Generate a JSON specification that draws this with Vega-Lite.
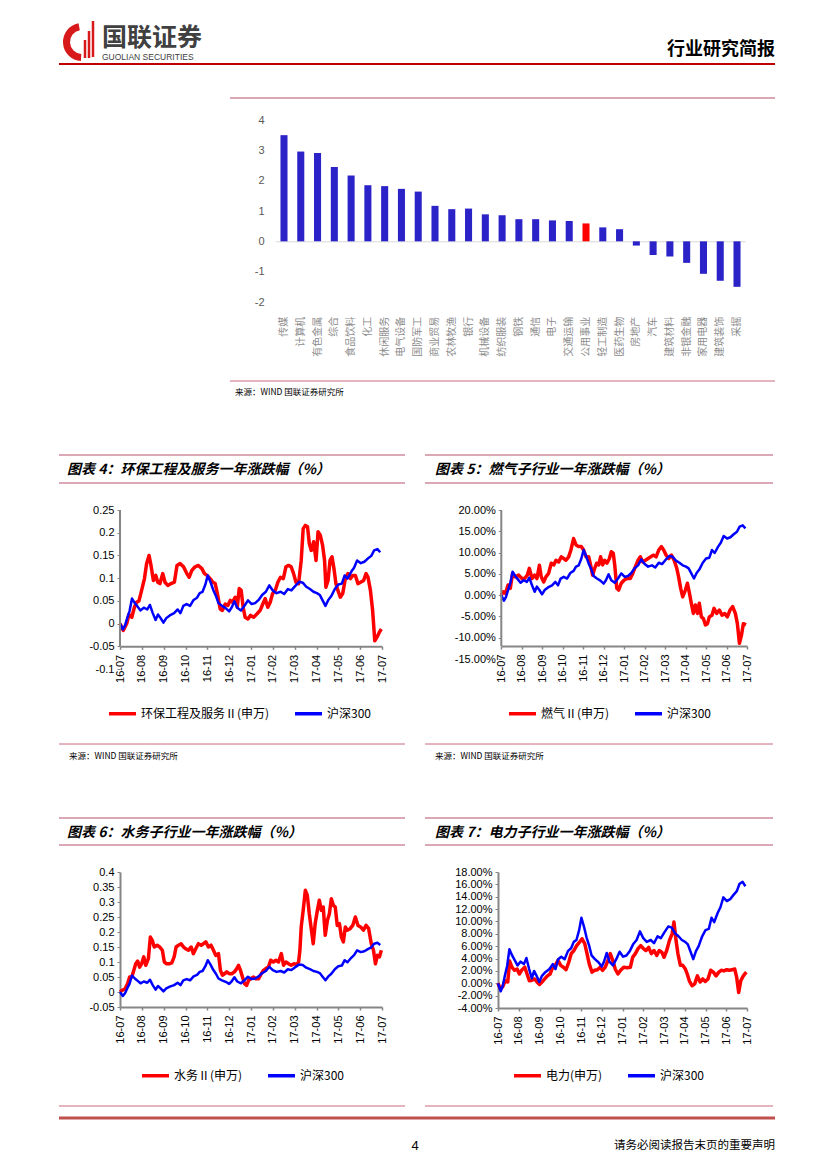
{
 "$schema": "https://vega.github.io/schema/vega-lite/v6.json",
 "background": "#ffffff",
 "padding": {"left": 57, "top": 0, "right": 0, "bottom": 0},
 "columns": 2,
 "bounds": "flush",
 "spacing": {"row": 0, "column": 20},
 "resolve": {"scale": {"color": "independent", "x": "independent", "y": "independent"}, "legend": {"color": "independent"}},
 "config": {"view": {"stroke": null}, "axis": {"grid": false}, "font": "Liberation Sans"},
 "datasets": {
  "industries": [
   {"name": "传媒", "value": 3.50}, {"name": "计算机", "value": 2.96}, {"name": "有色金属", "value": 2.91},
   {"name": "综合", "value": 2.45}, {"name": "食品饮料", "value": 2.17}, {"name": "化工", "value": 1.85},
   {"name": "休闲服务", "value": 1.82}, {"name": "电气设备", "value": 1.73}, {"name": "国防军工", "value": 1.64},
   {"name": "商业贸易", "value": 1.17}, {"name": "农林牧渔", "value": 1.06}, {"name": "银行", "value": 1.08},
   {"name": "机械设备", "value": 0.89}, {"name": "纺织服装", "value": 0.86}, {"name": "钢铁", "value": 0.73},
   {"name": "通信", "value": 0.73}, {"name": "电子", "value": 0.69}, {"name": "交通运输", "value": 0.67},
   {"name": "公用事业", "value": 0.59}, {"name": "轻工制造", "value": 0.46}, {"name": "医药生物", "value": 0.40},
   {"name": "房地产", "value": -0.14}, {"name": "汽车", "value": -0.45}, {"name": "建筑材料", "value": -0.50},
   {"name": "非银金融", "value": -0.71}, {"name": "家用电器", "value": -1.07}, {"name": "建筑装饰", "value": -1.30},
   {"name": "采掘", "value": -1.50}
  ],
  "hs300": [
   {"t":0,"v":0},{"t":0.13,"v":-0.013},{"t":0.23,"v":-0.004},{"t":0.33,"v":0.012},{"t":0.44,"v":0.028},{"t":0.55,"v":0.055},{"t":0.68,"v":0.045},{"t":0.81,"v":0.037},{"t":0.94,"v":0.029},{"t":1.09,"v":0.035},{"t":1.25,"v":0.031},{"t":1.37,"v":0.041},{"t":1.5,"v":0.023},{"t":1.63,"v":0.008},{"t":1.74,"v":0.02},{"t":1.86,"v":0.012},{"t":1.99,"v":0.002},{"t":2.12,"v":0.012},{"t":2.28,"v":0.018},{"t":2.48,"v":0.023},{"t":2.64,"v":0.031},{"t":2.77,"v":0.023},{"t":2.9,"v":0.039},{"t":3.05,"v":0.043},{"t":3.21,"v":0.039},{"t":3.37,"v":0.052},{"t":3.53,"v":0.057},{"t":3.65,"v":0.067},{"t":3.78,"v":0.07},{"t":3.91,"v":0.086},{"t":4.02,"v":0.106},{"t":4.14,"v":0.092},{"t":4.27,"v":0.074},{"t":4.4,"v":0.06},{"t":4.51,"v":0.045},{"t":4.67,"v":0.039},{"t":4.84,"v":0.034},{"t":5.0,"v":0.027},{"t":5.11,"v":0.035},{"t":5.24,"v":0.049},{"t":5.37,"v":0.035},{"t":5.54,"v":0.029},{"t":5.7,"v":0.039},{"t":5.86,"v":0.051},{"t":6.03,"v":0.043},{"t":6.19,"v":0.045},{"t":6.35,"v":0.052},{"t":6.51,"v":0.063},{"t":6.68,"v":0.07},{"t":6.84,"v":0.084},{"t":7.0,"v":0.073},{"t":7.17,"v":0.067},{"t":7.36,"v":0.07},{"t":7.52,"v":0.065},{"t":7.69,"v":0.076},{"t":7.85,"v":0.073},{"t":8.01,"v":0.082},{"t":8.21,"v":0.092},{"t":8.37,"v":0.09},{"t":8.53,"v":0.081},{"t":8.7,"v":0.076},{"t":8.86,"v":0.07},{"t":9.02,"v":0.067},{"t":9.15,"v":0.063},{"t":9.28,"v":0.051},{"t":9.41,"v":0.039},{"t":9.54,"v":0.052},{"t":9.67,"v":0.06},{"t":9.84,"v":0.076},{"t":10.0,"v":0.086},{"t":10.16,"v":0.088},{"t":10.29,"v":0.106},{"t":10.42,"v":0.099},{"t":10.59,"v":0.114},{"t":10.72,"v":0.123},{"t":10.86,"v":0.139},{"t":11.03,"v":0.133},{"t":11.19,"v":0.136},{"t":11.35,"v":0.143},{"t":11.51,"v":0.149},{"t":11.64,"v":0.161},{"t":11.79,"v":0.164},{"t":11.92,"v":0.157}
  ],
  "huanbao": [
   {"t":0,"v":0},{"t":0.15,"v":-0.015},{"t":0.31,"v":0},{"t":0.41,"v":0.02},{"t":0.54,"v":0.014},{"t":0.66,"v":0.036},{"t":0.76,"v":0.047},{"t":0.87,"v":0.05},{"t":0.99,"v":0.073},{"t":1.12,"v":0.099},{"t":1.22,"v":0.132},{"t":1.33,"v":0.15},{"t":1.42,"v":0.128},{"t":1.53,"v":0.095},{"t":1.64,"v":0.106},{"t":1.73,"v":0.091},{"t":1.83,"v":0.088},{"t":1.96,"v":0.11},{"t":2.06,"v":0.091},{"t":2.19,"v":0.084},{"t":2.34,"v":0.088},{"t":2.49,"v":0.091},{"t":2.61,"v":0.128},{"t":2.75,"v":0.132},{"t":2.91,"v":0.125},{"t":3.06,"v":0.11},{"t":3.17,"v":0.102},{"t":3.29,"v":0.117},{"t":3.44,"v":0.125},{"t":3.59,"v":0.128},{"t":3.75,"v":0.121},{"t":3.87,"v":0.11},{"t":3.99,"v":0.106},{"t":4.13,"v":0.099},{"t":4.25,"v":0.091},{"t":4.36,"v":0.088},{"t":4.46,"v":0.066},{"t":4.59,"v":0.032},{"t":4.69,"v":0.029},{"t":4.82,"v":0.043},{"t":4.94,"v":0.04},{"t":5.05,"v":0.051},{"t":5.15,"v":0.047},{"t":5.28,"v":0.058},{"t":5.37,"v":0.036},{"t":5.46,"v":0.077},{"t":5.55,"v":0.073},{"t":5.64,"v":0.036},{"t":5.73,"v":0.014},{"t":5.86,"v":0.01},{"t":5.98,"v":0.018},{"t":6.12,"v":0.014},{"t":6.27,"v":0.021},{"t":6.42,"v":0.029},{"t":6.54,"v":0.043},{"t":6.65,"v":0.055},{"t":6.77,"v":0.036},{"t":6.88,"v":0.047},{"t":6.99,"v":0.066},{"t":7.11,"v":0.073},{"t":7.23,"v":0.091},{"t":7.35,"v":0.102},{"t":7.48,"v":0.099},{"t":7.6,"v":0.125},{"t":7.72,"v":0.128},{"t":7.84,"v":0.125},{"t":7.95,"v":0.11},{"t":8.06,"v":0.091},{"t":8.18,"v":0.088},{"t":8.3,"v":0.139},{"t":8.39,"v":0.209},{"t":8.49,"v":0.216},{"t":8.59,"v":0.213},{"t":8.67,"v":0.176},{"t":8.76,"v":0.161},{"t":8.87,"v":0.18},{"t":8.98,"v":0.139},{"t":9.07,"v":0.202},{"t":9.17,"v":0.195},{"t":9.28,"v":0.172},{"t":9.37,"v":0.139},{"t":9.43,"v":0.08},{"t":9.53,"v":0.095},{"t":9.62,"v":0.139},{"t":9.71,"v":0.147},{"t":9.8,"v":0.121},{"t":9.89,"v":0.088},{"t":9.98,"v":0.073},{"t":10.09,"v":0.058},{"t":10.2,"v":0.066},{"t":10.32,"v":0.099},{"t":10.44,"v":0.11},{"t":10.55,"v":0.099},{"t":10.66,"v":0.106},{"t":10.78,"v":0.106},{"t":10.9,"v":0.088},{"t":11.02,"v":0.091},{"t":11.16,"v":0.095},{"t":11.27,"v":0.11},{"t":11.36,"v":0.102},{"t":11.47,"v":0.073},{"t":11.57,"v":0.029},{"t":11.67,"v":-0.038},{"t":11.77,"v":-0.03},{"t":11.88,"v":-0.019},{"t":11.97,"v":-0.012}
  ],
  "ranqi": [
   {"t":0,"v":0},{"t":0.1,"v":0.008},{"t":0.2,"v":0.004},{"t":0.33,"v":0.024},{"t":0.44,"v":0.016},{"t":0.55,"v":0.051},{"t":0.68,"v":0.043},{"t":0.85,"v":0.047},{"t":1.01,"v":0.039},{"t":1.14,"v":0.039},{"t":1.27,"v":0.047},{"t":1.37,"v":0.063},{"t":1.5,"v":0.039},{"t":1.63,"v":0.047},{"t":1.74,"v":0.039},{"t":1.86,"v":0.07},{"t":1.95,"v":0.043},{"t":2.07,"v":0.031},{"t":2.18,"v":0.043},{"t":2.31,"v":0.051},{"t":2.44,"v":0.075},{"t":2.56,"v":0.071},{"t":2.67,"v":0.082},{"t":2.8,"v":0.078},{"t":2.93,"v":0.09},{"t":3.05,"v":0.086},{"t":3.16,"v":0.082},{"t":3.29,"v":0.09},{"t":3.4,"v":0.106},{"t":3.53,"v":0.133},{"t":3.65,"v":0.118},{"t":3.78,"v":0.114},{"t":3.91,"v":0.114},{"t":4.02,"v":0.106},{"t":4.14,"v":0.09},{"t":4.27,"v":0.09},{"t":4.36,"v":0.071},{"t":4.46,"v":0.047},{"t":4.56,"v":0.063},{"t":4.66,"v":0.075},{"t":4.76,"v":0.071},{"t":4.85,"v":0.09},{"t":4.95,"v":0.071},{"t":5.05,"v":0.082},{"t":5.16,"v":0.075},{"t":5.28,"v":0.086},{"t":5.37,"v":0.102},{"t":5.47,"v":0.098},{"t":5.54,"v":0.071},{"t":5.64,"v":0.016},{"t":5.73,"v":0.012},{"t":5.86,"v":0.028},{"t":5.99,"v":0.035},{"t":6.14,"v":0.039},{"t":6.3,"v":0.039},{"t":6.42,"v":0.051},{"t":6.55,"v":0.067},{"t":6.68,"v":0.082},{"t":6.79,"v":0.09},{"t":6.91,"v":0.078},{"t":7.04,"v":0.082},{"t":7.17,"v":0.086},{"t":7.3,"v":0.09},{"t":7.43,"v":0.094},{"t":7.56,"v":0.09},{"t":7.69,"v":0.106},{"t":7.82,"v":0.114},{"t":7.93,"v":0.106},{"t":8.05,"v":0.094},{"t":8.18,"v":0.086},{"t":8.31,"v":0.094},{"t":8.44,"v":0.082},{"t":8.57,"v":0.063},{"t":8.66,"v":0.043},{"t":8.76,"v":0.016},{"t":8.86,"v":-0.004},{"t":8.99,"v":0.012},{"t":9.09,"v":0.028},{"t":9.19,"v":0.004},{"t":9.28,"v":-0.019},{"t":9.38,"v":-0.043},{"t":9.48,"v":-0.023},{"t":9.58,"v":-0.043},{"t":9.67,"v":-0.019},{"t":9.77,"v":-0.051},{"t":9.87,"v":-0.055},{"t":9.97,"v":-0.07},{"t":10.07,"v":-0.067},{"t":10.16,"v":-0.051},{"t":10.29,"v":-0.047},{"t":10.39,"v":-0.031},{"t":10.52,"v":-0.043},{"t":10.65,"v":-0.035},{"t":10.78,"v":-0.047},{"t":10.91,"v":-0.043},{"t":11.04,"v":-0.051},{"t":11.17,"v":-0.035},{"t":11.3,"v":-0.027},{"t":11.43,"v":-0.043},{"t":11.53,"v":-0.067},{"t":11.63,"v":-0.113},{"t":11.73,"v":-0.094},{"t":11.82,"v":-0.067},{"t":11.95,"v":-0.07}
  ],
  "shuiwu": [
   {"t":0,"v":0},{"t":0.11,"v":0.006},{"t":0.23,"v":0.011},{"t":0.35,"v":0.028},{"t":0.44,"v":0.05},{"t":0.54,"v":0.05},{"t":0.63,"v":0.072},{"t":0.72,"v":0.094},{"t":0.81,"v":0.103},{"t":0.9,"v":0.083},{"t":0.99,"v":0.094},{"t":1.09,"v":0.117},{"t":1.18,"v":0.089},{"t":1.3,"v":0.111},{"t":1.39,"v":0.183},{"t":1.48,"v":0.172},{"t":1.57,"v":0.15},{"t":1.7,"v":0.156},{"t":1.82,"v":0.15},{"t":1.94,"v":0.139},{"t":2.03,"v":0.1},{"t":2.14,"v":0.094},{"t":2.25,"v":0.094},{"t":2.37,"v":0.097},{"t":2.48,"v":0.117},{"t":2.57,"v":0.15},{"t":2.68,"v":0.156},{"t":2.8,"v":0.161},{"t":2.91,"v":0.15},{"t":3.01,"v":0.144},{"t":3.13,"v":0.139},{"t":3.26,"v":0.15},{"t":3.36,"v":0.128},{"t":3.47,"v":0.144},{"t":3.59,"v":0.161},{"t":3.72,"v":0.156},{"t":3.82,"v":0.161},{"t":3.93,"v":0.167},{"t":4.05,"v":0.15},{"t":4.17,"v":0.156},{"t":4.28,"v":0.139},{"t":4.39,"v":0.122},{"t":4.51,"v":0.128},{"t":4.6,"v":0.072},{"t":4.69,"v":0.056},{"t":4.79,"v":0.061},{"t":4.89,"v":0.067},{"t":5.0,"v":0.061},{"t":5.12,"v":0.061},{"t":5.24,"v":0.067},{"t":5.35,"v":0.078},{"t":5.43,"v":0.089},{"t":5.52,"v":0.072},{"t":5.61,"v":0.05},{"t":5.7,"v":0.028},{"t":5.8,"v":0.022},{"t":5.89,"v":0.039},{"t":5.99,"v":0.044},{"t":6.12,"v":0.05},{"t":6.22,"v":0.044},{"t":6.35,"v":0.044},{"t":6.47,"v":0.061},{"t":6.57,"v":0.072},{"t":6.68,"v":0.078},{"t":6.8,"v":0.083},{"t":6.9,"v":0.106},{"t":7.02,"v":0.1},{"t":7.14,"v":0.106},{"t":7.26,"v":0.1},{"t":7.39,"v":0.128},{"t":7.49,"v":0.089},{"t":7.6,"v":0.1},{"t":7.72,"v":0.094},{"t":7.84,"v":0.089},{"t":7.97,"v":0.094},{"t":8.09,"v":0.092},{"t":8.18,"v":0.1},{"t":8.24,"v":0.139},{"t":8.3,"v":0.217},{"t":8.39,"v":0.272},{"t":8.49,"v":0.339},{"t":8.58,"v":0.322},{"t":8.67,"v":0.261},{"t":8.76,"v":0.211},{"t":8.85,"v":0.161},{"t":8.94,"v":0.228},{"t":9.04,"v":0.272},{"t":9.13,"v":0.306},{"t":9.22,"v":0.272},{"t":9.31,"v":0.283},{"t":9.4,"v":0.189},{"t":9.5,"v":0.239},{"t":9.59,"v":0.261},{"t":9.68,"v":0.311},{"t":9.77,"v":0.289},{"t":9.86,"v":0.283},{"t":9.95,"v":0.222},{"t":10.05,"v":0.228},{"t":10.14,"v":0.183},{"t":10.23,"v":0.167},{"t":10.32,"v":0.217},{"t":10.41,"v":0.206},{"t":10.54,"v":0.211},{"t":10.66,"v":0.222},{"t":10.78,"v":0.25},{"t":10.9,"v":0.222},{"t":11.02,"v":0.217},{"t":11.15,"v":0.206},{"t":11.27,"v":0.222},{"t":11.39,"v":0.211},{"t":11.51,"v":0.161},{"t":11.61,"v":0.139},{"t":11.7,"v":0.094},{"t":11.79,"v":0.122},{"t":11.88,"v":0.117},{"t":11.97,"v":0.139}
  ],
  "dianli": [
   {"t":0,"v":0},{"t":0.11,"v":-0.009},{"t":0.22,"v":-0.006},{"t":0.35,"v":0.004},{"t":0.47,"v":0.002},{"t":0.56,"v":0.036},{"t":0.67,"v":0.026},{"t":0.8,"v":0.021},{"t":0.92,"v":0.023},{"t":1.03,"v":0.015},{"t":1.16,"v":0.022},{"t":1.29,"v":0.026},{"t":1.4,"v":0.015},{"t":1.51,"v":0.004},{"t":1.64,"v":0.005},{"t":1.77,"v":0.007},{"t":1.88,"v":0.002},{"t":2.0,"v":-0.002},{"t":2.12,"v":0.002},{"t":2.25,"v":0.007},{"t":2.38,"v":0.012},{"t":2.51,"v":0.015},{"t":2.64,"v":0.026},{"t":2.76,"v":0.029},{"t":2.89,"v":0.037},{"t":3.02,"v":0.029},{"t":3.15,"v":0.026},{"t":3.28,"v":0.022},{"t":3.41,"v":0.034},{"t":3.53,"v":0.048},{"t":3.66,"v":0.053},{"t":3.79,"v":0.061},{"t":3.92,"v":0.066},{"t":4.05,"v":0.072},{"t":4.18,"v":0.064},{"t":4.29,"v":0.048},{"t":4.4,"v":0.031},{"t":4.53,"v":0.018},{"t":4.66,"v":0.021},{"t":4.79,"v":0.022},{"t":4.92,"v":0.026},{"t":5.04,"v":0.021},{"t":5.17,"v":0.026},{"t":5.3,"v":0.037},{"t":5.41,"v":0.048},{"t":5.53,"v":0.037},{"t":5.65,"v":0.023},{"t":5.78,"v":0.015},{"t":5.91,"v":0.021},{"t":6.06,"v":0.026},{"t":6.22,"v":0.025},{"t":6.38,"v":0.026},{"t":6.49,"v":0.042},{"t":6.62,"v":0.048},{"t":6.75,"v":0.056},{"t":6.88,"v":0.061},{"t":7.01,"v":0.056},{"t":7.13,"v":0.053},{"t":7.26,"v":0.058},{"t":7.39,"v":0.048},{"t":7.52,"v":0.053},{"t":7.65,"v":0.045},{"t":7.77,"v":0.053},{"t":7.9,"v":0.05},{"t":8.0,"v":0.042},{"t":8.13,"v":0.053},{"t":8.26,"v":0.069},{"t":8.39,"v":0.08},{"t":8.48,"v":0.099},{"t":8.58,"v":0.069},{"t":8.67,"v":0.048},{"t":8.79,"v":0.029},{"t":8.9,"v":0.029},{"t":9.03,"v":0.023},{"t":9.12,"v":0.015},{"t":9.22,"v":0.004},{"t":9.35,"v":-0.004},{"t":9.48,"v":-0.001},{"t":9.61,"v":0.012},{"t":9.74,"v":0.002},{"t":9.87,"v":0.007},{"t":9.99,"v":0.003},{"t":10.12,"v":0.007},{"t":10.25,"v":0.021},{"t":10.38,"v":0.018},{"t":10.51,"v":0.012},{"t":10.64,"v":0.018},{"t":10.76,"v":0.021},{"t":10.89,"v":0.02},{"t":11.02,"v":0.022},{"t":11.15,"v":0.021},{"t":11.28,"v":0.022},{"t":11.41,"v":0.023},{"t":11.5,"v":0.01},{"t":11.6,"v":-0.015},{"t":11.7,"v":0.004},{"t":11.79,"v":0.01},{"t":11.89,"v":0.015},{"t":11.97,"v":0.018}
  ]
 },
 "concat": [
  {
   "width": 346, "height": 120,
   "data": {"values": [{}]},
   "layer": [
    {"mark": {"type": "rule", "color": "#C00000", "strokeWidth": 2},
     "encoding": {"x": {"datum": 0, "type": "quantitative", "scale": {"domain": [0, 346], "nice": false, "zero": false}, "axis": null}, "x2": {"datum": 716}, "y": {"datum": 64, "type": "quantitative", "scale": {"domain": [0, 120], "nice": false, "zero": false, "reverse": true}, "axis": null}}},
    {"mark": {"type": "rule", "color": "#B8506A", "strokeWidth": 1},
     "encoding": {"x": {"datum": 171, "type": "quantitative"}, "x2": {"datum": 716}, "y": {"datum": 98, "type": "quantitative"}}},
    {"mark": {"type": "arc", "theta": 3.2, "theta2": 6.1, "radius": 19, "radius2": 12, "fill": "#D7191C"},
     "encoding": {"x": {"datum": 23, "type": "quantitative"}, "y": {"datum": 42, "type": "quantitative"}}},
    {"mark": {"type": "rule", "color": "#D7191C", "strokeWidth": 2.5},
     "encoding": {"x": {"datum": 26, "type": "quantitative"}, "y": {"datum": 40, "type": "quantitative"}, "y2": {"datum": 58}}},
    {"mark": {"type": "rule", "color": "#D7191C", "strokeWidth": 2.5},
     "encoding": {"x": {"datum": 30, "type": "quantitative"}, "y": {"datum": 31, "type": "quantitative"}, "y2": {"datum": 58}}},
    {"mark": {"type": "rule", "color": "#D7191C", "strokeWidth": 2.5},
     "encoding": {"x": {"datum": 34, "type": "quantitative"}, "y": {"datum": 21, "type": "quantitative"}, "y2": {"datum": 57}}},
    {"mark": {"type": "text", "text": "国联证券", "font": "Noto Sans CJK SC", "fontSize": 25, "fontWeight": "bold", "color": "#404040", "align": "left", "baseline": "middle"},
     "encoding": {"x": {"datum": 43, "type": "quantitative"}, "y": {"datum": 38, "type": "quantitative"}}},
    {"mark": {"type": "text", "text": "GUOLIAN SECURITIES", "font": "Liberation Sans", "fontSize": 8.5, "color": "#404040", "align": "left", "baseline": "middle"},
     "encoding": {"x": {"datum": 43, "type": "quantitative"}, "y": {"datum": 57, "type": "quantitative"}}}
   ]
  },
  {
   "width": 348, "height": 120,
   "data": {"values": [{}]},
   "mark": {"type": "text", "text": "行业研究简报", "font": "Noto Sans CJK SC", "fontSize": 18, "fontWeight": "bold", "color": "#000000", "align": "right", "baseline": "middle"},
   "encoding": {"x": {"datum": 350, "type": "quantitative", "scale": {"domain": [0, 348], "nice": false, "zero": false}, "axis": null}, "y": {"datum": 50, "type": "quantitative", "scale": {"domain": [0, 120], "nice": false, "zero": false, "reverse": true}, "axis": null}}
  },
  {
   "width": 346, "height": 182,
   "data": {"name": "industries"},
   "mark": {"type": "bar"},
   "encoding": {
    "x": {"field": "name", "type": "nominal", "sort": null,
          "scale": {"range": [216.6, 686.4], "paddingInner": 0.58, "paddingOuter": 0.29},
          "axis": {"title": null, "orient": "bottom", "offset": -60.7, "domainColor": "#D9D9D9", "domainWidth": 1, "ticks": false, "labelAngle": 270, "labelAlign": "right", "labelBaseline": "middle", "labelPadding": 75, "labelFont": "Noto Sans CJK SC", "labelFontSize": 10, "labelColor": "#8C8C8C", "labelOverlap": false, "labelBound": false, "labelLimit": 0}},
    "y": {"field": "value", "type": "quantitative", "scale": {"domain": [-2, 4], "nice": false},
          "axis": {"title": null, "offset": -209, "domain": false, "ticks": false, "values": [-2, -1, 0, 1, 2, 3, 4], "tickCount": 20, "labelOverlap": false, "labelExpr": "toString(datum.value)", "labelPadding": 4, "labelFont": "Liberation Sans", "labelFontSize": 11, "labelColor": "#595959"}},
    "color": {"condition": {"test": "datum.name === '公用事业'", "value": "#FF0000"}, "value": "#2B22C8"}
   }
  },
  {
   "width": 348, "height": 335,
   "data": {"values": [{}]},
   "layer": [
    {"mark": {"type": "rule", "color": "#C8687E", "strokeWidth": 1},
     "encoding": {"x": {"datum": -195, "type": "quantitative", "scale": {"domain": [0, 348], "nice": false, "zero": false}, "axis": null}, "x2": {"datum": 350}, "y": {"datum": 261, "type": "quantitative", "scale": {"domain": [0, 335], "nice": false, "zero": false, "reverse": true}, "axis": null}}},
    {"mark": {"type": "text", "text": "来源：WIND  国联证券研究所", "font": "Noto Sans CJK SC", "fontSize": 8.5, "color": "#000000", "align": "left", "baseline": "middle"},
     "encoding": {"x": {"datum": -190, "type": "quantitative"}, "y": {"datum": 272, "type": "quantitative"}}}
   ]
  },
  {
   "width": 346, "height": 55,
   "data": {"values": [{}]},
   "layer": [
    {"mark": {"type": "rule", "color": "#B8506A", "strokeWidth": 1.2}, "encoding": {"y": {"datum": 0, "type": "quantitative", "scale": {"domain": [0, 55], "nice": false, "zero": false, "reverse": true}, "axis": null}}},
    {"mark": {"type": "rule", "color": "#B8506A", "strokeWidth": 1.2}, "encoding": {"y": {"datum": 28, "type": "quantitative"}}},
    {"mark": {"type": "text", "text": "图表 4：环保工程及服务一年涨跌幅（%）", "font": "Noto Sans CJK SC", "fontSize": 14, "fontWeight": "bold", "fontStyle": "italic", "color": "#000000", "align": "left", "baseline": "middle"},
     "encoding": {"x": {"datum": 8, "type": "quantitative", "scale": {"domain": [0, 346], "nice": false, "zero": false}, "axis": null}, "y": {"datum": 15, "type": "quantitative"}}}
   ]
  },
  {
   "width": 348, "height": 55,
   "data": {"values": [{}]},
   "layer": [
    {"mark": {"type": "rule", "color": "#B8506A", "strokeWidth": 1.2}, "encoding": {"y": {"datum": 0, "type": "quantitative", "scale": {"domain": [0, 55], "nice": false, "zero": false, "reverse": true}, "axis": null}}},
    {"mark": {"type": "rule", "color": "#B8506A", "strokeWidth": 1.2}, "encoding": {"y": {"datum": 28, "type": "quantitative"}}},
    {"mark": {"type": "text", "text": "图表 5：燃气子行业一年涨跌幅（%）", "font": "Noto Sans CJK SC", "fontSize": 14, "fontWeight": "bold", "fontStyle": "italic", "color": "#000000", "align": "left", "baseline": "middle"},
     "encoding": {"x": {"datum": 10, "type": "quantitative", "scale": {"domain": [0, 348], "nice": false, "zero": false}, "axis": null}, "y": {"datum": 15, "type": "quantitative"}}}
   ]
  },
  {
   "width": 346, "height": 159,
   "layer": [
    {"data": {"name": "huanbao"}, "mark": {"type": "line", "strokeWidth": 3.5, "strokeJoin": "round"},
     "encoding": {
      "x": {"field": "t", "type": "quantitative", "scale": {"domain": [0, 12], "range": [61, 323], "nice": false, "zero": false},
            "axis": {"title": null, "offset": -22.7, "values": [0,1,2,3,4,5,6,7,8,9,10,11,12], "tickCount": 40, "labelExpr": "['16-07','16-08','16-09','16-10','16-11','16-12','17-01','17-02','17-03','17-04','17-05','17-06','17-07'][datum.value]", "labelAngle": 270, "labelAlign": "right", "labelBaseline": "middle", "labelFont": "Liberation Sans", "labelFontSize": 11, "labelColor": "#000000", "labelPadding": 5, "tickSize": 3, "tickColor": "#868686", "tickWidth": 1.5, "domainColor": "#868686", "domainWidth": 2, "labelOverlap": false, "labelBound": false, "labelFlush": false}},
      "y": {"field": "v", "type": "quantitative", "scale": {"domain": [-0.1, 0.25], "nice": false, "zero": false},
            "axis": {"title": null, "offset": -61, "values": [-0.1,-0.05,0,0.05,0.1,0.15,0.2,0.25], "tickCount": 40, "labelOverlap": false, "labelExpr": "toString(datum.value)", "domain": false, "tickSize": 3, "tickColor": "#868686", "labelFont": "Liberation Sans", "labelFontSize": 11, "labelColor": "#000000", "labelPadding": 3}},
      "color": {"datum": "环保工程及服务Ⅱ(申万)", "type": "nominal", "scale": {"domain": ["环保工程及服务Ⅱ(申万)", "沪深300"], "range": ["#FF0000", "#0000FF"]},
                "legend": {"orient": "none", "legendX": 48, "legendY": 188, "direction": "horizontal", "title": null, "symbolType": "stroke", "symbolSize": 729, "symbolStrokeWidth": 3.5, "labelFont": "Noto Sans CJK SC", "labelFontSize": 12, "labelColor": "#000000", "labelOffset": 3, "columnPadding": 18, "labelLimit": 0}}
     }},
    {"data": {"name": "hs300"}, "mark": {"type": "line", "strokeWidth": 2.5, "strokeJoin": "round"},
     "encoding": {"x": {"field": "t", "type": "quantitative"}, "y": {"field": "v", "type": "quantitative"}, "color": {"datum": "沪深300", "type": "nominal"}}},
    {"data": {"values": [{}]}, "mark": {"type": "rule", "color": "#868686", "strokeWidth": 2},
     "encoding": {"x": {"datum": 0, "type": "quantitative"}, "y": {"datum": -0.05, "type": "quantitative"}, "y2": {"datum": 0.25}}}
   ]
  },
  {
   "width": 348, "height": 149,
   "layer": [
    {"data": {"name": "ranqi"}, "mark": {"type": "line", "strokeWidth": 3.5, "strokeJoin": "round"},
     "encoding": {
      "x": {"field": "t", "type": "quantitative", "scale": {"domain": [0, 12], "range": [76.3, 322], "nice": false, "zero": false},
            "axis": {"title": null, "offset": -13, "values": [0,1,2,3,4,5,6,7,8,9,10,11,12], "tickCount": 40, "labelExpr": "['16-07','16-08','16-09','16-10','16-11','16-12','17-01','17-02','17-03','17-04','17-05','17-06','17-07'][datum.value]", "labelAngle": 270, "labelAlign": "right", "labelBaseline": "middle", "labelFont": "Liberation Sans", "labelFontSize": 11, "labelColor": "#000000", "labelPadding": 5, "tickSize": 3, "tickColor": "#868686", "tickWidth": 1.5, "domainColor": "#868686", "domainWidth": 2, "labelOverlap": false, "labelBound": false, "labelFlush": false}},
      "y": {"field": "v", "type": "quantitative", "scale": {"domain": [-0.15, 0.2], "nice": false, "zero": false},
            "axis": {"title": null, "offset": -76.3, "values": [-0.15,-0.1,-0.05,0,0.05,0.1,0.15,0.2], "tickCount": 40, "labelOverlap": false, "labelExpr": "replace(format(datum.value, '.2%'), '\u2212', '-')", "domain": false, "tickSize": 3, "tickColor": "#868686", "labelFont": "Liberation Sans", "labelFontSize": 11, "labelColor": "#000000", "labelPadding": 3}},
      "color": {"datum": "燃气Ⅱ(申万)", "type": "nominal", "scale": {"domain": ["燃气Ⅱ(申万)", "沪深300"], "range": ["#FF0000", "#0000FF"]},
                "legend": {"orient": "none", "legendX": 82, "legendY": 188, "direction": "horizontal", "title": null, "symbolType": "stroke", "symbolSize": 729, "symbolStrokeWidth": 3.5, "labelFont": "Noto Sans CJK SC", "labelFontSize": 12, "labelColor": "#000000", "labelOffset": 3, "columnPadding": 18, "labelLimit": 0}}
     }},
    {"data": {"name": "hs300"}, "mark": {"type": "line", "strokeWidth": 2.5, "strokeJoin": "round"},
     "encoding": {"x": {"field": "t", "type": "quantitative"}, "y": {"field": "v", "type": "quantitative"}, "color": {"datum": "沪深300", "type": "nominal"}}},
    {"data": {"values": [{}]}, "mark": {"type": "rule", "color": "#868686", "strokeWidth": 2},
     "encoding": {"x": {"datum": 0, "type": "quantitative"}, "y": {"datum": -0.12, "type": "quantitative"}, "y2": {"datum": 0.2}}}
   ]
  },
  {
   "width": 346, "height": 149,
   "data": {"values": [{}]},
   "layer": [
    {"mark": {"type": "rule", "color": "#C8687E", "strokeWidth": 1}, "encoding": {"y": {"datum": 75, "type": "quantitative", "scale": {"domain": [0, 149], "nice": false, "zero": false, "reverse": true}, "axis": null}}},
    {"mark": {"type": "text", "text": "来源：WIND  国联证券研究所", "font": "Noto Sans CJK SC", "fontSize": 8.5, "color": "#000000", "align": "left", "baseline": "middle"},
     "encoding": {"x": {"datum": 10, "type": "quantitative", "scale": {"domain": [0, 346], "nice": false, "zero": false}, "axis": null}, "y": {"datum": 87, "type": "quantitative"}}}
   ]
  },
  {
   "width": 348, "height": 149,
   "data": {"values": [{}]},
   "layer": [
    {"mark": {"type": "rule", "color": "#C8687E", "strokeWidth": 1}, "encoding": {"y": {"datum": 75, "type": "quantitative", "scale": {"domain": [0, 149], "nice": false, "zero": false, "reverse": true}, "axis": null}}},
    {"mark": {"type": "text", "text": "来源：WIND  国联证券研究所", "font": "Noto Sans CJK SC", "fontSize": 8.5, "color": "#000000", "align": "left", "baseline": "middle"},
     "encoding": {"x": {"datum": 10, "type": "quantitative", "scale": {"domain": [0, 348], "nice": false, "zero": false}, "axis": null}, "y": {"datum": 87, "type": "quantitative"}}}
   ]
  },
  {
   "width": 346, "height": 54,
   "data": {"values": [{}]},
   "layer": [
    {"mark": {"type": "rule", "color": "#B8506A", "strokeWidth": 1.2}, "encoding": {"y": {"datum": 0, "type": "quantitative", "scale": {"domain": [0, 54], "nice": false, "zero": false, "reverse": true}, "axis": null}}},
    {"mark": {"type": "rule", "color": "#B8506A", "strokeWidth": 1.2}, "encoding": {"y": {"datum": 27, "type": "quantitative"}}},
    {"mark": {"type": "text", "text": "图表 6：水务子行业一年涨跌幅（%）", "font": "Noto Sans CJK SC", "fontSize": 14, "fontWeight": "bold", "fontStyle": "italic", "color": "#000000", "align": "left", "baseline": "middle"},
     "encoding": {"x": {"datum": 8, "type": "quantitative", "scale": {"domain": [0, 346], "nice": false, "zero": false}, "axis": null}, "y": {"datum": 15, "type": "quantitative"}}}
   ]
  },
  {
   "width": 348, "height": 54,
   "data": {"values": [{}]},
   "layer": [
    {"mark": {"type": "rule", "color": "#B8506A", "strokeWidth": 1.2}, "encoding": {"y": {"datum": 0, "type": "quantitative", "scale": {"domain": [0, 54], "nice": false, "zero": false, "reverse": true}, "axis": null}}},
    {"mark": {"type": "rule", "color": "#B8506A", "strokeWidth": 1.2}, "encoding": {"y": {"datum": 27, "type": "quantitative"}}},
    {"mark": {"type": "text", "text": "图表 7：电力子行业一年涨跌幅（%）", "font": "Noto Sans CJK SC", "fontSize": 14, "fontWeight": "bold", "fontStyle": "italic", "color": "#000000", "align": "left", "baseline": "middle"},
     "encoding": {"x": {"datum": 10, "type": "quantitative", "scale": {"domain": [0, 348], "nice": false, "zero": false}, "axis": null}, "y": {"datum": 15, "type": "quantitative"}}}
   ]
  },
  {
   "width": 346, "height": 135,
   "layer": [
    {"data": {"name": "shuiwu"}, "mark": {"type": "line", "strokeWidth": 3.5, "strokeJoin": "round"},
     "encoding": {
      "x": {"field": "t", "type": "quantitative", "scale": {"domain": [0, 12], "range": [61, 323], "nice": false, "zero": false},
            "axis": {"title": null, "values": [0,1,2,3,4,5,6,7,8,9,10,11,12], "tickCount": 40, "labelExpr": "['16-07','16-08','16-09','16-10','16-11','16-12','17-01','17-02','17-03','17-04','17-05','17-06','17-07'][datum.value]", "labelAngle": 270, "labelAlign": "right", "labelBaseline": "middle", "labelFont": "Liberation Sans", "labelFontSize": 11, "labelColor": "#000000", "labelPadding": 5, "tickSize": 3, "tickColor": "#868686", "tickWidth": 1.5, "domainColor": "#868686", "domainWidth": 2, "labelOverlap": false, "labelBound": false, "labelFlush": false}},
      "y": {"field": "v", "type": "quantitative", "scale": {"domain": [-0.05, 0.4], "nice": false, "zero": false},
            "axis": {"title": null, "offset": -61, "values": [-0.05,0,0.05,0.1,0.15,0.2,0.25,0.3,0.35,0.4], "tickCount": 40, "labelOverlap": false, "labelExpr": "toString(datum.value)", "domain": true, "domainColor": "#868686", "domainWidth": 2, "tickSize": 3, "tickColor": "#868686", "labelFont": "Liberation Sans", "labelFontSize": 11, "labelColor": "#000000", "labelPadding": 3}},
      "color": {"datum": "水务Ⅱ(申万)", "type": "nominal", "scale": {"domain": ["水务Ⅱ(申万)", "沪深300"], "range": ["#FF0000", "#0000FF"]},
                "legend": {"orient": "none", "legendX": 81, "legendY": 188, "direction": "horizontal", "title": null, "symbolType": "stroke", "symbolSize": 729, "symbolStrokeWidth": 3.5, "labelFont": "Noto Sans CJK SC", "labelFontSize": 12, "labelColor": "#000000", "labelOffset": 3, "columnPadding": 18, "labelLimit": 0}}
     }},
    {"data": {"name": "hs300"}, "mark": {"type": "line", "strokeWidth": 2.5, "strokeJoin": "round"},
     "encoding": {"x": {"field": "t", "type": "quantitative"}, "y": {"field": "v", "type": "quantitative"}, "color": {"datum": "沪深300", "type": "nominal"}}}
   ]
  },
  {
   "width": 348, "height": 136,
   "layer": [
    {"data": {"name": "dianli"}, "mark": {"type": "line", "strokeWidth": 3.5, "strokeJoin": "round"},
     "encoding": {
      "x": {"field": "t", "type": "quantitative", "scale": {"domain": [0, 12], "range": [73, 322], "nice": false, "zero": false},
            "axis": {"title": null, "values": [0,1,2,3,4,5,6,7,8,9,10,11,12], "tickCount": 40, "labelExpr": "['16-07','16-08','16-09','16-10','16-11','16-12','17-01','17-02','17-03','17-04','17-05','17-06','17-07'][datum.value]", "labelAngle": 270, "labelAlign": "right", "labelBaseline": "middle", "labelFont": "Liberation Sans", "labelFontSize": 11, "labelColor": "#000000", "labelPadding": 5, "tickSize": 3, "tickColor": "#868686", "tickWidth": 1.5, "domainColor": "#868686", "domainWidth": 2, "labelOverlap": false, "labelBound": false, "labelFlush": false}},
      "y": {"field": "v", "type": "quantitative", "scale": {"domain": [-0.04, 0.18], "nice": false, "zero": false},
            "axis": {"title": null, "offset": -73, "values": [-0.04,-0.02,0,0.02,0.04,0.06,0.08,0.1,0.12,0.14,0.16,0.18], "tickCount": 40, "labelOverlap": false, "labelExpr": "replace(format(datum.value, '.2%'), '\u2212', '-')", "domain": true, "domainColor": "#868686", "domainWidth": 2, "tickSize": 3, "tickColor": "#868686", "labelFont": "Liberation Sans", "labelFontSize": 11, "labelColor": "#000000", "labelPadding": 3}},
      "color": {"datum": "电力(申万)", "type": "nominal", "scale": {"domain": ["电力(申万)", "沪深300"], "range": ["#FF0000", "#0000FF"]},
                "legend": {"orient": "none", "legendX": 87, "legendY": 188, "direction": "horizontal", "title": null, "symbolType": "stroke", "symbolSize": 729, "symbolStrokeWidth": 3.5, "labelFont": "Noto Sans CJK SC", "labelFontSize": 12, "labelColor": "#000000", "labelOffset": 3, "columnPadding": 18, "labelLimit": 0}}
     }},
    {"data": {"name": "hs300"}, "mark": {"type": "line", "strokeWidth": 2.5, "strokeJoin": "round"},
     "encoding": {"x": {"field": "t", "type": "quantitative"}, "y": {"field": "v", "type": "quantitative"}, "color": {"datum": "沪深300", "type": "nominal"}}}
   ]
  },
  {
   "width": 346, "height": 102,
   "data": {"values": [{}]},
   "mark": {"type": "rule", "color": "#C8687E", "strokeWidth": 1},
   "encoding": {"y": {"datum": 98, "type": "quantitative", "scale": {"domain": [0, 102], "nice": false, "zero": false, "reverse": true}, "axis": null}}
  },
  {
   "width": 348, "height": 102,
   "data": {"values": [{}]},
   "mark": {"type": "rule", "color": "#C8687E", "strokeWidth": 1},
   "encoding": {"y": {"datum": 98, "type": "quantitative", "scale": {"domain": [0, 102], "nice": false, "zero": false, "reverse": true}, "axis": null}}
  },
  {
   "width": 346, "height": 59,
   "data": {"values": [{}]},
   "layer": [
    {"mark": {"type": "rule", "color": "#C0504D", "strokeWidth": 3},
     "encoding": {"x": {"datum": 0, "type": "quantitative", "scale": {"domain": [0, 346], "nice": false, "zero": false}, "axis": null}, "x2": {"datum": 716}, "y": {"datum": 8, "type": "quantitative", "scale": {"domain": [0, 59], "nice": false, "zero": false, "reverse": true}, "axis": null}}},
    {"mark": {"type": "text", "text": "4", "font": "Liberation Sans", "fontSize": 13, "color": "#000000", "align": "center", "baseline": "middle"},
     "encoding": {"x": {"datum": 356, "type": "quantitative"}, "y": {"datum": 36, "type": "quantitative"}}}
   ]
  },
  {
   "width": 348, "height": 59,
   "data": {"values": [{}]},
   "mark": {"type": "text", "text": "请务必阅读报告末页的重要声明", "font": "Noto Sans CJK SC", "fontSize": 11.5, "color": "#000000", "align": "right", "baseline": "middle"},
   "encoding": {"x": {"datum": 350, "type": "quantitative", "scale": {"domain": [0, 348], "nice": false, "zero": false}, "axis": null}, "y": {"datum": 36, "type": "quantitative", "scale": {"domain": [0, 59], "nice": false, "zero": false, "reverse": true}, "axis": null}}
  }
 ]
}
